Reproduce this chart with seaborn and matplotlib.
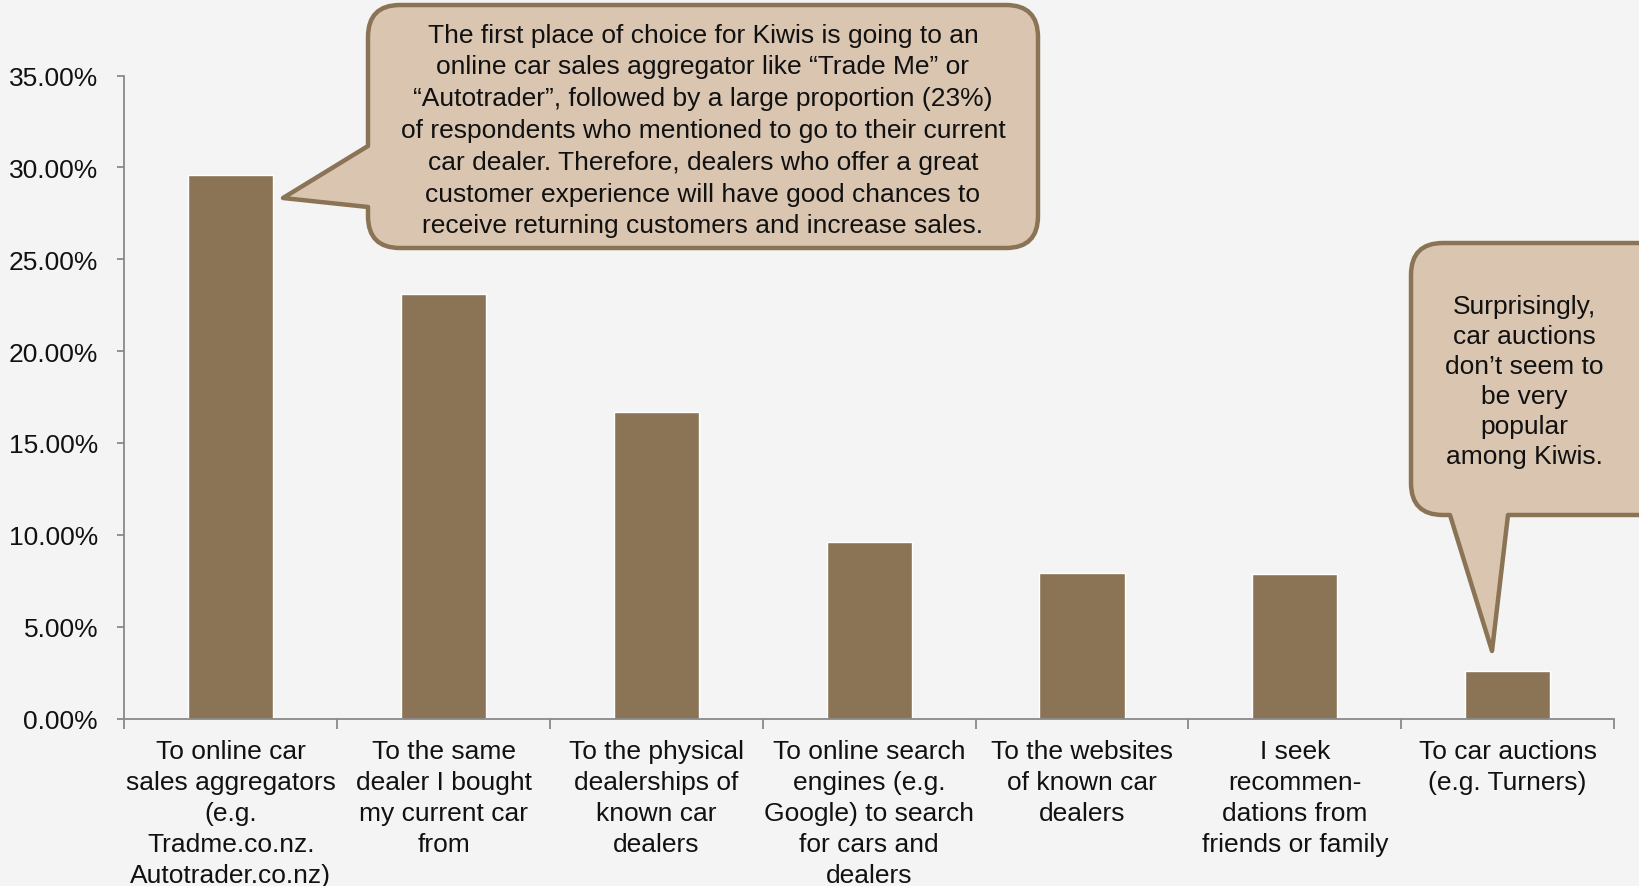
import numpy as np
import pandas as pd
import seaborn as sns
import matplotlib.pyplot as plt
from matplotlib.path import Path
from matplotlib.patches import PathPatch
from matplotlib.ticker import FuncFormatter, FixedLocator

# data
categories = [
    "To online car\nsales aggregators\n(e.g.\nTradme.co.nz.\nAutotrader.co.nz)",
    "To the same\ndealer I bought\nmy current car\nfrom",
    "To the physical\ndealerships of\nknown car\ndealers",
    "To online search\nengines (e.g.\nGoogle) to search\nfor cars and\ndealers",
    "To the websites\nof known car\ndealers",
    "I seek\nrecommen-\ndations from\nfriends or family",
    "To car auctions\n(e.g. Turners)",
]
share = [29.6, 23.1, 16.7, 9.6, 7.9, 7.85, 2.6]
yticks = [0, 5, 10, 15, 20, 25, 30, 35]

note_big = ("The first place of choice for Kiwis is going to an\n"
            "online car sales aggregator like \u201cTrade Me\u201d or\n"
            "\u201cAutotrader\u201d, followed by a large proportion (23%)\n"
            "of respondents who mentioned to go to their current\n"
            "car dealer. Therefore, dealers who offer a great\n"
            "customer experience will have good chances to\n"
            "receive returning customers and increase sales.")
note_small = ("Surprisingly,\ncar auctions\ndon\u2019t seem to\nbe very\n"
              "popular\namong Kiwis.")

bg = "#f4f4f4"
bar_col = "#8b7355"
bubble_fill = "#d9c5b0"
axis_col = "#898989"

sns.set_theme(style="ticks")
plt.rcParams['font.family'] = ['Liberation Sans', 'DejaVu Sans']

W, H = 1640, 887
fig = plt.figure(figsize=(W / 100, H / 100), dpi=100, facecolor=bg)
ax = fig.add_axes([124.5 / W, 1 - 719.5 / H, (1614 - 124.5) / W, (719.5 - 76.5) / H])
ax.set_facecolor(bg)

df = pd.DataFrame({"cat": categories, "share": share})
sns.barplot(data=df, x="cat", y="share", color=bar_col, saturation=1,
            width=0.4, ax=ax)

ax.set_xlim(-0.5, len(categories) - 0.5)
ax.set_ylim(0, 35)
ax.set_yticks(yticks)
ax.yaxis.set_major_formatter(FuncFormatter(lambda v, p: f"{v:.2f}%"))
ax.set_xlabel("")
ax.set_ylabel("")

for s in ["top", "right"]:
    ax.spines[s].set_visible(False)
for s in ["left", "bottom"]:
    ax.spines[s].set_color(axis_col)
    ax.spines[s].set_linewidth(1.3)

ax.tick_params(axis="y", length=5, width=1.3, color=axis_col, pad=14,
               labelsize=19, labelcolor="#111111")
ax.tick_params(axis="x", which="major", length=0, pad=15,
               labelsize=19, labelcolor="#111111")
ax.xaxis.set_minor_locator(FixedLocator(np.arange(-0.5, len(categories), 1)))
ax.tick_params(axis="x", which="minor", length=7, width=1.3, color=axis_col)
for lab in ax.get_xticklabels():
    lab.set_linespacing(1.36)
    lab.set_verticalalignment("top")


def bubble(x0, y0, x1, y1, r, side, a, b, tip):
    # rounded box with a pointer, all in figure pixels (y from top)
    pts, codes = [], []

    def mv(p):
        pts.append(p); codes.append(Path.MOVETO)

    def ln(p):
        pts.append(p); codes.append(Path.LINETO)

    def cv(c, p):
        pts.extend([c, p]); codes.extend([Path.CURVE3, Path.CURVE3])

    mv((x0 + r, y0))
    ln((x1 - r, y0))
    cv((x1, y0), (x1, y0 + r))
    ln((x1, y1 - r))
    cv((x1, y1), (x1 - r, y1))
    if side == "bottom":
        ln((a, y1)); ln(tip); ln((b, y1))
    ln((x0 + r, y1))
    cv((x0, y1), (x0, y1 - r))
    if side == "left":
        ln((x0, a)); ln(tip); ln((x0, b))
    ln((x0, y0 + r))
    cv((x0, y0), (x0 + r, y0))
    pts.append((x0 + r, y0)); codes.append(Path.CLOSEPOLY)
    arr = np.array(pts, dtype=float)
    arr[:, 0] = arr[:, 0] / W
    arr[:, 1] = 1 - arr[:, 1] / H
    patch = PathPatch(Path(arr, codes), transform=fig.transFigure,
                      facecolor=bubble_fill, edgecolor=bar_col, lw=3.2,
                      joinstyle="round", zorder=5)
    fig.add_artist(patch)


bubble(368, 6, 1038, 249, 32, "left", 208, 147, (283, 199))
fig.text(703 / W, 1 - 131 / H, note_big, ha="center", va="center",
         fontsize=19, linespacing=1.41, color="#111111", zorder=6)

bubble(1411, 244, 1680, 516, 32, "bottom", 1508, 1450, (1492, 652))
fig.text(1524 / W, 1 - 382 / H, note_small, ha="center", va="center",
         fontsize=19, linespacing=1.31, color="#111111", zorder=6)

plt.savefig("out.png", dpi=100, facecolor=bg)
